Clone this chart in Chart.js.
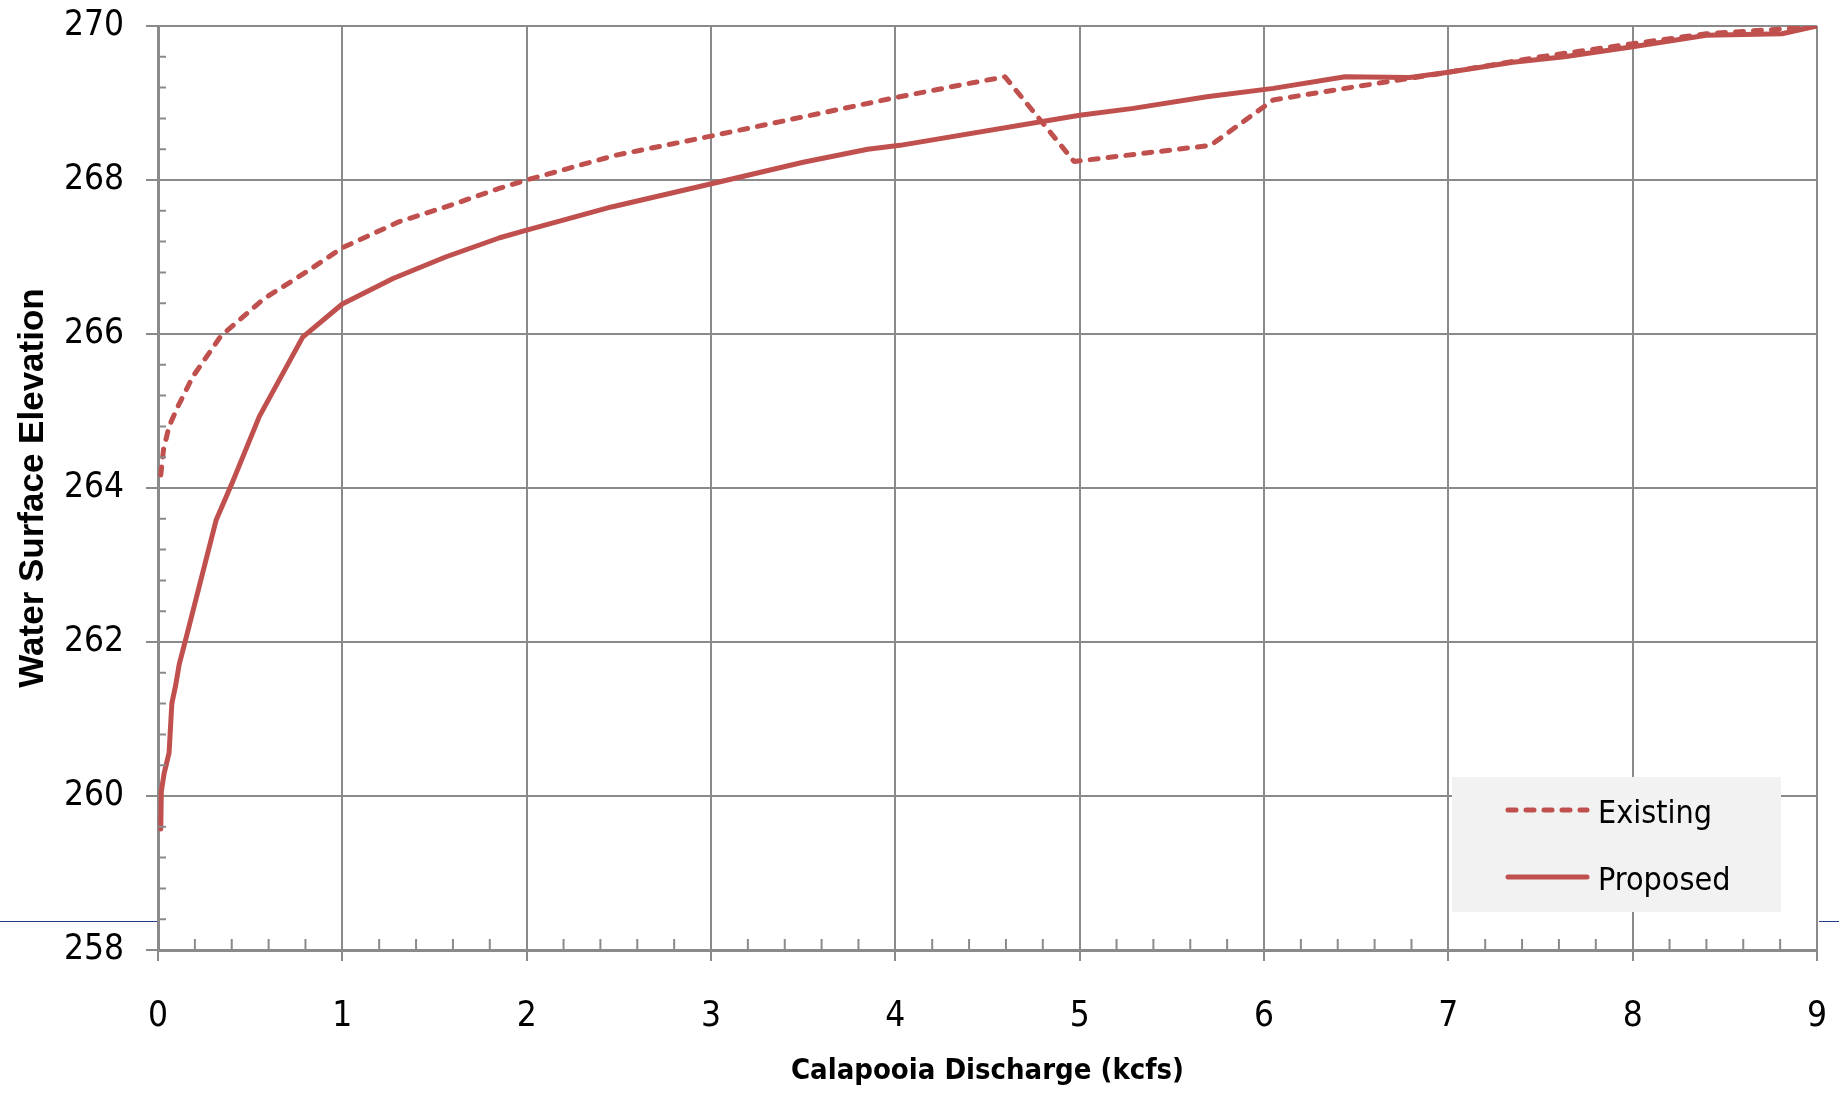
<!DOCTYPE html>
<html><head><meta charset="utf-8">
<script src="https://cdn.jsdelivr.net/npm/chart.js@4.4.1/dist/chart.umd.min.js"></script>
<style>
html,body{margin:0;padding:0;background:#fff;}
canvas{display:block;}
</style></head>
<body>
<canvas id="c" width="1839" height="1102"></canvas>
<script>
// ---- data ----
const seriesLabels = ['Existing', 'Proposed'];
const existingQ = [0.015, 0.03, 0.06, 0.11, 0.19, 0.34, 0.57, 0.8, 1.0, 1.31, 1.56, 1.85, 2.0, 2.48, 3.0, 3.5, 4.0, 4.39, 4.595, 4.97, 5.71, 6.05, 6.44, 6.79, 7.0, 7.5, 8.0, 8.4, 8.81, 9.0];
const existingWSE = [264.17, 264.5, 264.8, 265.07, 265.45, 265.97, 266.45, 266.8, 267.12, 267.46, 267.65, 267.89, 268.0, 268.32, 268.57, 268.82, 269.07, 269.25, 269.34, 268.24, 268.45, 269.04, 269.19, 269.32, 269.4, 269.6, 269.77, 269.9, 269.96, 270.0];
const proposedQ = [0.015, 0.018, 0.033, 0.06, 0.075, 0.096, 0.115, 0.15, 0.315, 0.405, 0.55, 0.785, 1.0, 1.275, 1.56, 1.854, 2.0, 2.46, 3.09, 3.5, 3.85, 4.025, 5.0, 5.29, 5.69, 6.05, 6.44, 6.79, 7.0, 7.35, 7.63, 8.0, 8.4, 8.81, 9.0];
const proposedWSE = [259.57, 260.06, 260.29, 260.56, 261.2, 261.44, 261.71, 262.03, 263.58, 264.08, 264.93, 265.96, 266.39, 266.72, 267.0, 267.25, 267.35, 267.65, 268.0, 268.23, 268.4, 268.45, 268.84, 268.93, 269.08, 269.19, 269.34, 269.33, 269.4, 269.53, 269.6, 269.73, 269.88, 269.9, 270.0];
const xTicks = [0, 1, 2, 3, 4, 5, 6, 7, 8, 9];
const yTicks = [258, 260, 262, 264, 266, 268, 270];
const xTitle = 'Calapooia Discharge (kcfs)';
const yTitle = 'Water Surface Elevation';

const pairs = (xs, ys) => xs.map((x, i) => ({x, y: ys[i]}));

const RED = '#c0504d';
const GRID = '#8a8a8a';
const COND = "'DejaVu Sans Condensed','Liberation Sans Narrow','DejaVu Sans',sans-serif";

const decor = {
  id: 'decor',
  beforeDraw(chart) {
    const {ctx, chartArea: a, width} = chart;
    ctx.save();
    ctx.strokeStyle = '#1f3f88';
    ctx.lineWidth = 1.2;
    const y = Math.round(a.bottom - 29) + 0.5;
    ctx.beginPath();
    ctx.moveTo(0, y); ctx.lineTo(a.left - 1, y);
    ctx.moveTo(a.right + 2, y); ctx.lineTo(width, y);
    ctx.stroke();
    ctx.restore();
  },
  afterDraw(chart) {
    const {ctx, chartArea: a, scales} = chart;
    ctx.save();
    ctx.strokeStyle = GRID;
    ctx.lineWidth = 2;
    ctx.beginPath();
    for (let i = 0; i <= 30; i++) {
      if (i % 5 === 0) continue;
      const py = scales.y.getPixelForValue(258 + i * 0.4);
      ctx.moveTo(a.left, py); ctx.lineTo(a.left + 8, py);
    }
    for (let i = 0; i <= 45; i++) {
      if (i % 5 === 0) continue;
      const px = scales.x.getPixelForValue(i * 0.2);
      ctx.moveTo(px, a.bottom); ctx.lineTo(px, a.bottom - 11);
    }
    ctx.stroke();

    // legend box
    const lx = a.right - 365, ly = a.bottom - 173;
    ctx.fillStyle = '#f2f2f2';
    ctx.fillRect(lx, ly, 329, 135);
    const rows = [33, 100];
    chart.data.datasets.forEach((ds, i) => {
      const yy = ly + rows[i];
      ctx.save();
      ctx.strokeStyle = ds.borderColor;
      ctx.lineWidth = ds.borderWidth;
      ctx.lineCap = 'round';
      ctx.setLineDash(ds.borderDash || []);
      ctx.beginPath();
      ctx.moveTo(lx + 56, yy); ctx.lineTo(lx + 135, yy);
      ctx.stroke();
      ctx.restore();
      ctx.fillStyle = '#000';
      ctx.font = '32px ' + COND;
      ctx.textBaseline = 'alphabetic';
      ctx.textAlign = 'left';
      ctx.fillText(ds.label, lx + 146, yy + 13);
    });
    ctx.restore();
  }
};

new Chart(document.getElementById('c'), {
  type: 'line',
  data: {
    datasets: [
      {label: seriesLabels[0], data: pairs(existingQ, existingWSE), borderColor: RED, backgroundColor: RED,
       borderWidth: 5, borderDash: [8, 10], borderCapStyle: 'round', borderJoinStyle: 'round', pointRadius: 0, tension: 0, fill: false},
      {label: seriesLabels[1], data: pairs(proposedQ, proposedWSE), borderColor: RED, backgroundColor: RED,
       borderWidth: 5, borderCapStyle: 'round', borderJoinStyle: 'round', pointRadius: 0, tension: 0, fill: false}
    ]
  },
  options: {
    responsive: false,
    animation: false,
    devicePixelRatio: 1,
    layout: {padding: {top: 26, right: 22, left: 0, bottom: 0}},
    plugins: {legend: {display: false}, tooltip: {enabled: false}},
    scales: {
      x: {
        type: 'linear', min: 0, max: 9,
        afterBuildTicks: s => { s.ticks = xTicks.map(v => ({value: v})); },
        afterFit: s => { s.height = 152; },
        grid: {color: GRID, lineWidth: 2, tickLength: 11, tickColor: GRID, tickWidth: 2},
        border: {color: GRID, width: 3},
        ticks: {color: '#000', font: {family: COND, size: 35, lineHeight: 3.18}, padding: 0, maxRotation: 0, autoSkip: false},
        title: {display: true, text: xTitle, color: '#000', font: {family: COND, size: 29, weight: 'bold'}, padding: {top: 0, bottom: 13}}
      },
      y: {
        type: 'linear', min: 258, max: 270,
        afterBuildTicks: s => { s.ticks = yTicks.map(v => ({value: v})); },
        afterFit: s => { s.width = 158; },
        grid: {color: GRID, lineWidth: 2, tickLength: 12, tickColor: GRID, tickWidth: 2},
        border: {color: GRID, width: 3},
        ticks: {color: '#000', font: {family: COND, size: 35, lineHeight: 0.2}, padding: 22, autoSkip: false},
        title: {display: true, text: yTitle, color: '#000', font: {family: "'Liberation Sans','Arial',sans-serif", size: 35, weight: 'bold'}, padding: {top: 12, bottom: 0}}
      }
    }
  },
  plugins: [decor]
});
</script>
</body></html>
